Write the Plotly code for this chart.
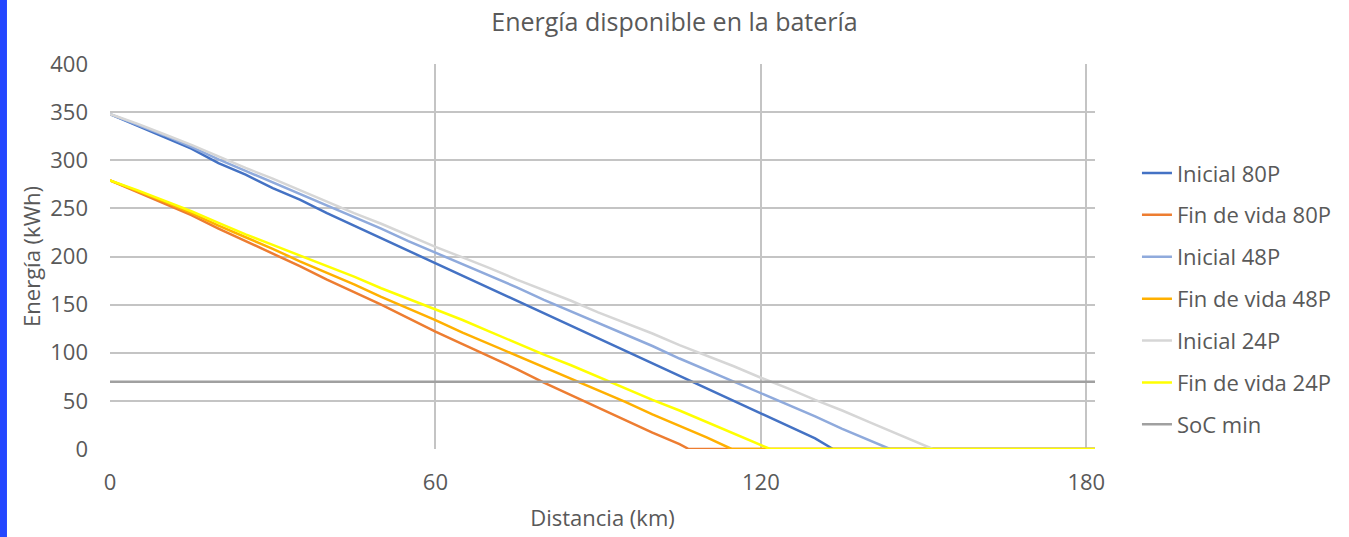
import plotly.graph_objects as go

# distancia (km) y energía (kWh)
x_ini80 = [0, 5, 10, 15, 20, 25, 30, 35, 40, 45, 50, 55, 60, 65, 70, 75, 80, 85, 90, 95, 100, 105, 110, 115, 120, 125, 130, 133.3, 181.6]
y_ini80 = [348, 336, 324, 312, 297, 285, 271, 259, 245, 232, 219, 206, 193, 180, 167, 154, 141, 128, 115, 102, 89, 76, 63, 50, 37, 24, 11, 0, 0]

x_fin80 = [0, 5, 10, 15, 20, 25, 30, 35, 40, 45, 50, 55, 60, 65, 70, 75, 80, 85, 90, 95, 100, 105, 106.7, 181.6]
y_fin80 = [279, 267, 255, 243, 229, 216, 203, 190, 176, 163, 150, 136, 122, 109, 96, 83, 69, 56, 43, 30, 17, 5, 0, 0]

x_ini48 = [0, 5, 10, 15, 20, 25, 30, 35, 40, 45, 50, 55, 60, 65, 70, 75, 80, 85, 90, 95, 100, 105, 110, 115, 120, 125, 130, 135, 140, 143.8, 181.6]
y_ini48 = [348, 337, 326, 314, 301, 289, 277, 265, 253, 241, 229, 216, 204, 192, 180, 168, 155, 143, 131, 119, 107, 94, 82, 70, 58, 46, 34, 21, 9, 0, 0]

x_fin48 = [0, 5, 10, 15, 20, 25, 30, 35, 40, 45, 50, 55, 60, 65, 70, 75, 80, 85, 90, 95, 100, 105, 110, 114.6, 181.6]
y_fin48 = [279, 268, 257, 245, 232, 220, 208, 195, 183, 171, 158, 146, 134, 121, 109, 97, 85, 73, 61, 49, 36, 24, 12, 0, 0]

x_ini24 = [0, 5, 10, 15, 20, 25, 30, 35, 40, 45, 50, 55, 60, 65, 70, 75, 80, 85, 90, 95, 100, 105, 110, 115, 120, 125, 130, 135, 140, 145, 150, 151.7, 181.6]
y_ini24 = [348, 338, 327, 316, 304, 292, 281, 269, 257, 245, 234, 222, 210, 199, 188, 176, 165, 154, 142, 131, 120, 108, 97, 86, 74, 63, 51, 40, 28, 16, 4, 0, 0]

x_fin24 = [0, 5, 10, 15, 20, 25, 30, 35, 40, 45, 50, 55, 60, 65, 70, 75, 80, 85, 90, 95, 100, 105, 110, 115, 120, 121.7, 181.6]
y_fin24 = [279, 269, 258, 247, 235, 223, 212, 201, 190, 179, 167, 156, 145, 134, 122, 110, 98, 87, 75, 63, 51, 40, 28, 16, 4, 0, 0]

x_soc = [0, 181.6]
y_soc = [70, 70]

series = [
    ("Inicial 80P", x_ini80, y_ini80, "#4472C4"),
    ("Fin de vida 80P", x_fin80, y_fin80, "#ED7D31"),
    ("Inicial 48P", x_ini48, y_ini48, "#8FAADC"),
    ("Fin de vida 48P", x_fin48, y_fin48, "#FFB000"),
    ("Inicial 24P", x_ini24, y_ini24, "#D6D6D6"),
    ("Fin de vida 24P", x_fin24, y_fin24, "#FFFF00"),
    ("SoC min", x_soc, y_soc, "#A0A0A0"),
]

font = "Open Sans, Liberation Sans, sans-serif"
grey = "#595959"

fig = go.Figure()
for name, xs, ys, col in series:
    fig.add_trace(go.Scatter(
        x=xs, y=ys, mode="lines", name=name, legendgroup=name,
        line=dict(color=col, width=2.5),
    ))

# franja azul del borde izquierdo de la captura
fig.add_shape(type="rect", xref="paper", yref="paper",
              x0=-0.1117, x1=-0.1046, y0=-0.23, y1=1.17,
              fillcolor="#2447FF", line=dict(width=0), layer="below")

fig.update_layout(
    width=1349, height=537,
    margin=dict(l=110, r=254, t=64, b=88),
    paper_bgcolor="white", plot_bgcolor="white",
    font=dict(family=font, color=grey, size=22),
    title=dict(text="Energía disponible en la batería", x=0.5, xanchor="center",
               y=1 - 22 / 537, yanchor="middle",
               font=dict(size=25, color=grey)),
    legend=dict(x=1.0426, xanchor="left", y=0.771, yanchor="top",
                font=dict(size=22, color=grey), tracegroupgap=10.3,
                bgcolor="rgba(0,0,0,0)"),
    xaxis=dict(range=[0, 181.6], tickvals=[0, 60, 120, 180],
               showgrid=True, gridcolor="#C4C4C4", gridwidth=1.5,
               zeroline=False, showline=False, automargin=False,
               ticklabelstandoff=18,
               title=dict(text="Distancia (km)", standoff=15,
                          font=dict(size=22, color=grey))),
    yaxis=dict(range=[0, 400], dtick=50,
               showgrid=True, gridcolor="#C4C4C4", gridwidth=1.5,
               zeroline=False, showline=False, automargin=False,
               ticklabelstandoff=21,
               title=dict(text="Energía (kWh)", standoff=3,
                          font=dict(size=22, color=grey))),
)

fig.write_html("out.html", config={"displayModeBar": False},
               post_script="document.body.style.margin='0';")
